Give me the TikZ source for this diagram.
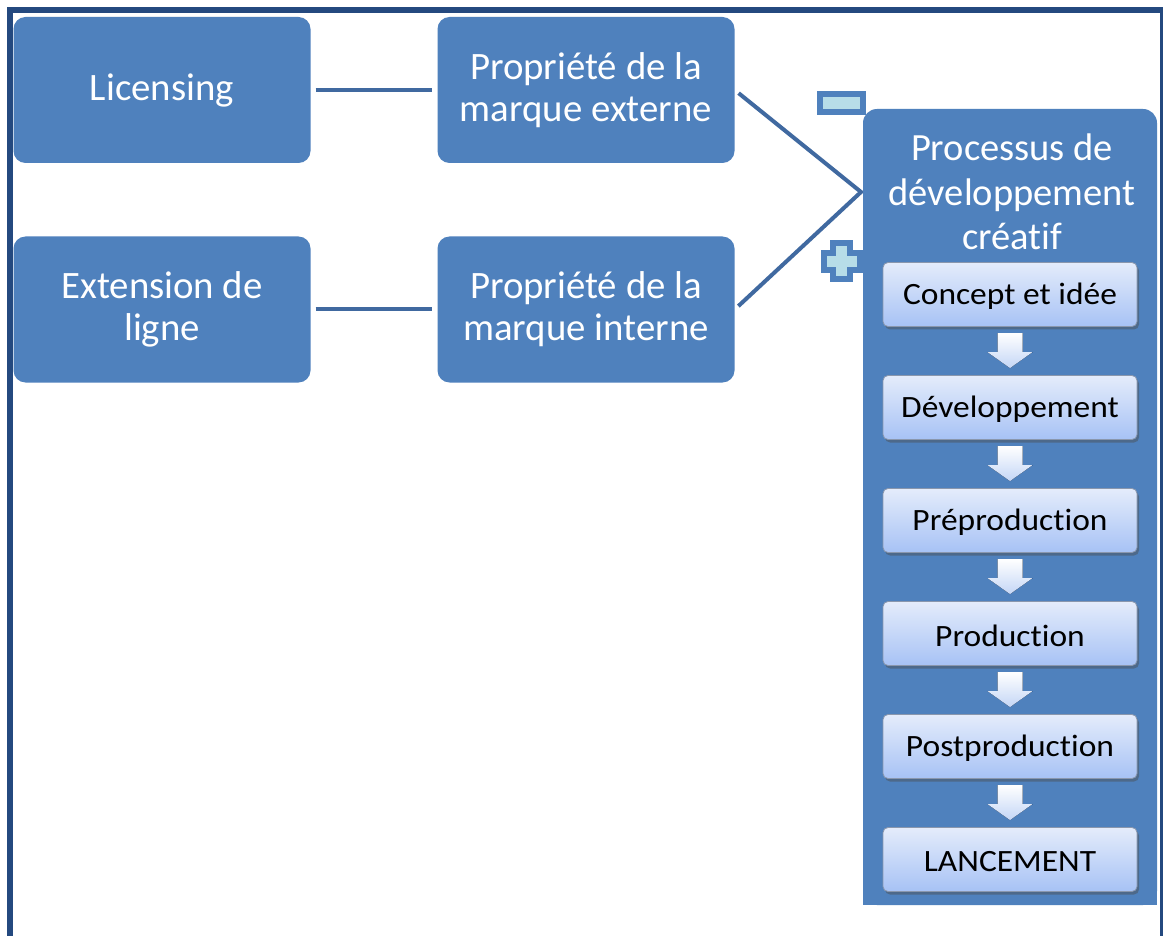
\documentclass[tikz,border=0pt]{standalone}
\usepackage{fontspec}
\setmainfont[Ligatures=NoCommon]{Carlito}
\newfontfamily\stepfont[FakeStretch=1.08,Ligatures=NoCommon]{Carlito}
\usetikzlibrary{shadows}
\definecolor{mainblue}{HTML}{4F81BD}
\definecolor{framecol}{HTML}{24497F}
\definecolor{linecol}{HTML}{4069A0}
\definecolor{signfill}{HTML}{B7DDE8}
\definecolor{steptop}{HTML}{E4ECFB}
\definecolor{stepbot}{HTML}{A7C2F5}
\definecolor{stepedge}{HTML}{8A97AD}
\definecolor{arrowbot}{HTML}{C4D6F6}
\begin{document}
\begin{tikzpicture}[x=1pt,y=-1pt,
  frameline/.style={draw=framecol,line width=6pt},
  bluebox/.style={rounded corners=12pt,fill=mainblue,minimum width=297pt,
    minimum height=146pt,text=white,align=center,inner sep=0pt,
    font=\fontsize{38.8}{42}\selectfont},
  procbox/.style={rounded corners=14pt,fill=mainblue,minimum width=294pt,
    minimum height=796pt,inner sep=0pt},
  titletext/.style={text=white,align=center,inner sep=0pt,
    font=\fontsize{38.5}{44.5}\selectfont},
  stepbox/.style={rounded corners=5pt,draw=stepedge,line width=0.8pt,
    top color=steptop,bottom color=stepbot,minimum width=254pt,
    minimum height=64pt,inner sep=0pt,text=black,
    font=\stepfont\fontsize{31}{36}\selectfont,
    drop shadow={shadow xshift=2pt,shadow yshift=-3pt,opacity=0.45,fill=black!70}},
  steptext/.style={text=black,inner sep=0pt,font=\stepfont\fontsize{31}{36}\selectfont},
  downarrow/.style={top color=white,bottom color=arrowbot},
  conn/.style={draw=linecol,line width=4pt,shorten <=5pt,shorten >=5pt},
  signbox/.style={draw=mainblue,fill=signfill,line width=6pt,inner sep=0pt},
]
\useasboundingbox (0,0) rectangle (1163,936);
\fill[white] (0,0) rectangle (1163,936);

% outer frame
\draw[frameline] (10,945) -- (10,10) -- (1163,10) -- (1163,945);

% brand boxes
\node[bluebox] (lic) at (162,90) {Licensing};
\node[bluebox] (ext) at (586,90) {Propriété de la\\marque externe};
\node[bluebox] (lig) at (162,309.5) {Extension de\\ligne};
\node[bluebox] (int) at (586,309.5) {Propriété de la\\marque interne};

% connectors
\coordinate (v) at (861,192);
\draw[conn] (lic) -- (ext);
\draw[conn] (lig) -- (int);
\draw[conn] (ext.east) -- (v) -- (int.east);

% minus / plus markers
\node[signbox,minimum width=43pt,minimum height=18pt] (minus) at (841.5,103) {};
\coordinate (plusc) at (841.5,261.5);
\draw[signbox] (plusc) ++(-8.5,-18) -- ++(17,0) -- ++(0,9.5) -- ++(9.5,0)
  -- ++(0,17) -- ++(-9.5,0) -- ++(0,9.5) -- ++(-17,0) -- ++(0,-9.5)
  -- ++(-9.5,0) -- ++(0,-17) -- ++(9.5,0) -- cycle;

% creative development process
\node[procbox] (proc) at (1010,507) {};
\fill[mainblue] (proc.south west) rectangle ([yshift=30pt]proc.south east);
\node[titletext] (ptitle) at (1012,192) {Processus de\\développement\\créatif};

\node[stepbox] (c1) at (1010,294.5) {};
\node[stepbox] (c2) at (1010,407.5) {};
\node[stepbox] (c3) at (1010,520.5) {};
\node[stepbox] (c4) at (1010,633.5) {};
\node[stepbox] (c5) at (1010,746.5) {};
\node[stepbox] (c6) at (1010,859.5) {};
\node[steptext] (t1) at ([yshift=-2pt]c1.center) {Concept et idée};
\node[steptext] (t2) at ([yshift=-2pt]c2.center) {Développement};
\node[steptext] (t3) at ([yshift=-2pt]c3.center) {Préproduction};
\node[steptext] (t4) at ([yshift=-2pt]c4.center) {Production};
\node[steptext] (t5) at ([yshift=-2pt]c5.center) {Postproduction};
\node[steptext] (t6) at ([yshift=-2pt]c6.center) {LANCEMENT};

\foreach \b in {c2,c3,c4,c5,c6}{
  \fill[downarrow] ([xshift=-12.5pt,yshift=42pt]\b.north)
    -- ([xshift=12.5pt,yshift=42pt]\b.north)
    -- ([xshift=12.5pt,yshift=23pt]\b.north)
    -- ([xshift=22.5pt,yshift=23pt]\b.north)
    -- ([yshift=7pt]\b.north)
    -- ([xshift=-22.5pt,yshift=23pt]\b.north)
    -- ([xshift=-12.5pt,yshift=23pt]\b.north) -- cycle;
}
\end{tikzpicture}
\end{document}
